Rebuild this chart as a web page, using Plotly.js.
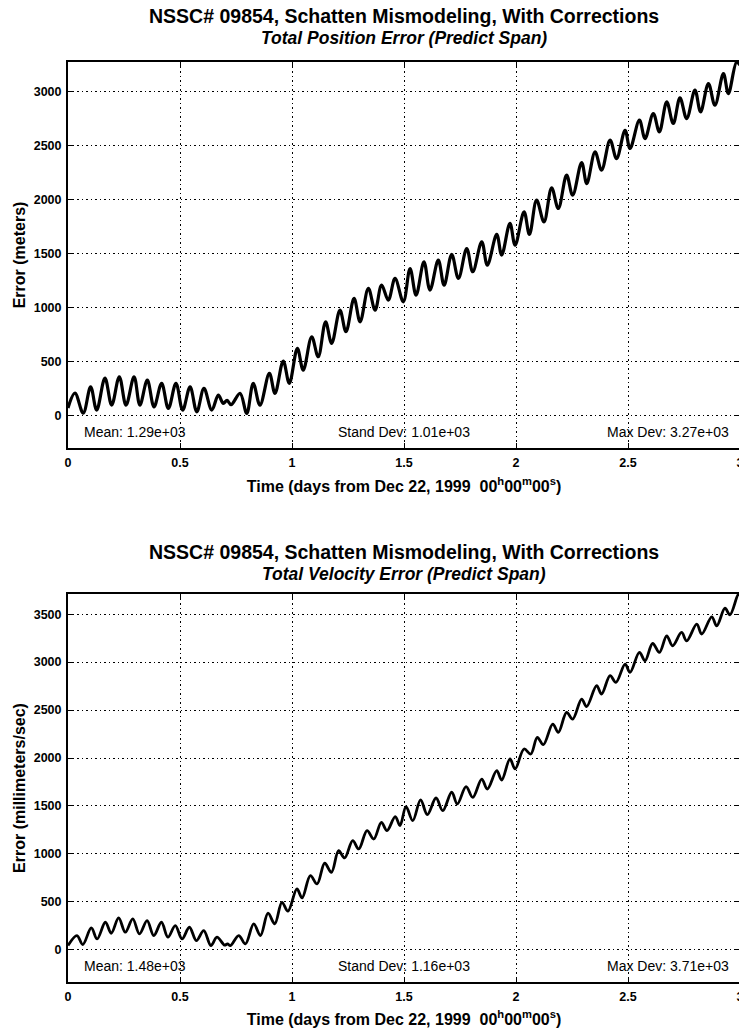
<!DOCTYPE html>
<html><head><meta charset="utf-8">
<script src="https://cdn.plot.ly/plotly-3.0.1.min.js"></script>
<style>html,body{margin:0;padding:0;overflow:hidden;background:#fff}#chart{width:742px;height:1028px}</style>
</head><body><div id="chart"></div>
<script>
// ---- data ----
const posTime = [
  0.000, 0.031, 0.068, 0.101, 0.128, 0.165, 0.195, 0.229, 0.259, 0.295,
  0.321, 0.354, 0.384, 0.418, 0.448, 0.482, 0.512, 0.545, 0.575, 0.607,
  0.642, 0.671, 0.693, 0.710, 0.728, 0.768, 0.798, 0.827, 0.857, 0.899,
  0.924, 0.961, 0.988, 1.024, 1.050, 1.088, 1.117, 1.150, 1.177, 1.214,
  1.241, 1.277, 1.304, 1.341, 1.371, 1.400, 1.430, 1.460, 1.497, 1.527,
  1.554, 1.589, 1.616, 1.653, 1.679, 1.713, 1.743, 1.780, 1.807, 1.847,
  1.872, 1.914, 1.936, 1.973, 1.996, 2.036, 2.060, 2.092, 2.125, 2.159,
  2.189, 2.226, 2.253, 2.293, 2.316, 2.353, 2.382, 2.420, 2.449, 2.487,
  2.509, 2.551, 2.576, 2.613, 2.640, 2.673, 2.702, 2.732, 2.762, 2.799,
  2.824, 2.859, 2.888, 2.926, 2.948, 2.985, 3.000
];
const posError = [
  70, 208, 23, 266, 51, 347, 97, 359, 97, 358,
  97, 328, 81, 298, 66, 298, 51, 266, 35, 251,
  51, 189, 113, 140, 100, 205, 20, 298, 97, 390,
  205, 504, 298, 621, 420, 729, 544, 867, 667, 975,
  775, 1083, 867, 1176, 975, 1206, 1068, 1268, 1052, 1360,
  1114, 1422, 1160, 1438, 1206, 1490, 1268, 1545, 1330, 1607,
  1391, 1675, 1484, 1777, 1576, 1884, 1675, 1992, 1792, 2106,
  1915, 2223, 2038, 2340, 2146, 2439, 2270, 2547, 2377, 2639,
  2470, 2732, 2562, 2793, 2624, 2901, 2701, 2938, 2747, 3009,
  2809, 3071, 2870, 3163, 2978, 3271, 3240
];
const velTime = [
  0.000, 0.040, 0.066, 0.104, 0.130, 0.167, 0.193, 0.226, 0.256, 0.289,
  0.319, 0.353, 0.383, 0.417, 0.446, 0.479, 0.509, 0.542, 0.573, 0.606,
  0.638, 0.665, 0.699, 0.712, 0.725, 0.762, 0.792, 0.829, 0.859, 0.893,
  0.923, 0.955, 0.982, 1.022, 1.045, 1.082, 1.112, 1.146, 1.176, 1.208,
  1.235, 1.271, 1.298, 1.335, 1.365, 1.399, 1.424, 1.461, 1.482, 1.509,
  1.539, 1.574, 1.604, 1.643, 1.673, 1.713, 1.738, 1.777, 1.807, 1.847,
  1.872, 1.914, 1.936, 1.973, 1.996, 2.036, 2.066, 2.095, 2.122, 2.164,
  2.189, 2.226, 2.253, 2.293, 2.315, 2.360, 2.382, 2.420, 2.446, 2.487,
  2.509, 2.551, 2.576, 2.610, 2.640, 2.673, 2.699, 2.739, 2.762, 2.807,
  2.829, 2.874, 2.896, 2.933, 2.955, 2.993, 3.000
];
const velError = [
  45, 149, 55, 229, 114, 288, 173, 333, 184, 323,
  166, 305, 149, 288, 132, 253, 114, 236, 97, 201,
  45, 132, 50, 62, 45, 149, 62, 271, 149, 382,
  271, 496, 403, 635, 541, 774, 687, 903, 809, 1034,
  958, 1139, 1052, 1243, 1156, 1330, 1243, 1390, 1295, 1493,
  1347, 1563, 1410, 1583, 1451, 1643, 1521, 1702, 1590, 1781,
  1677, 1868, 1771, 1990, 1886, 2094, 2042, 2215, 2139, 2354,
  2267, 2476, 2406, 2615, 2535, 2754, 2667, 2858, 2788, 2979,
  2892, 3101, 3014, 3194, 3101, 3274, 3170, 3309, 3222, 3396,
  3292, 3472, 3378, 3562, 3493, 3708, 3700
];
const xTickVals = [0, 0.5, 1, 1.5, 2, 2.5, 3];
const xTickText = ['0', '0.5', '1', '1.5', '2', '2.5', '3'];
const posTickVals = [0, 500, 1000, 1500, 2000, 2500, 3000];
const velTickVals = [0, 500, 1000, 1500, 2000, 2500, 3000, 3500];
const mainTitle = 'NSSC# 09854, Schatten Mismodeling, With Corrections';
const posSubtitle = 'Total Position Error (Predict Span)';
const velSubtitle = 'Total Velocity Error (Predict Span)';
const posStats = ['Mean: 1.29e+03', 'Stand Dev: 1.01e+03', 'Max Dev: 3.27e+03'];
const velStats = ['Mean: 1.48e+03', 'Stand Dev: 1.16e+03', 'Max Dev: 3.71e+03'];
const xTitle = 'Time (days from Dec 22, 1999\u00a0\u00a000<sup>h</sup>00<sup>m</sup>00<sup>s</sup>)';

// ---- styling ----
const FONT = '"Liberation Sans", Arial, Helvetica, sans-serif';
const H = 1028;
function axisBase() {
  return {
    showline: true, linecolor: '#000', linewidth: 2, mirror: 'ticks',
    ticks: 'inside', ticklen: 5, tickwidth: 1, tickcolor: '#000',
    showgrid: true, gridcolor: '#000', gridwidth: 1, griddash: '1.5px,3px',
    zeroline: false, automargin: false, fixedrange: true,
    ticklabeloverflow: 'allow', ticklabelstandoff: 2,
    tickfont: {family: FONT, size: 12.5, color: '#000', weight: 'bold'}
  };
}
const axisTitleFont = {family: FONT, size: 16, weight: 'bold', color: '#000'};
const xa = Object.assign(axisBase(), {
  range: [0, 3], tickmode: 'array', tickvals: xTickVals, ticktext: xTickText,
  anchor: 'y', domain: [0, 1],
  title: {text: xTitle, standoff: 12, font: axisTitleFont}
});
const xa2 = Object.assign(axisBase(), {
  range: [0, 3], tickmode: 'array', tickvals: xTickVals, ticktext: xTickText,
  anchor: 'y2', domain: [0, 1],
  title: {text: xTitle, standoff: 12, font: axisTitleFont}
});
const ya = Object.assign(axisBase(), {
  range: [-300, 3270], tickmode: 'array', tickvals: posTickVals,
  anchor: 'x', domain: [(H - 448) / H, (H - 62) / H],
  title: {text: 'Error (meters)', standoff: 4, font: axisTitleFont}
});
const ya2 = Object.assign(axisBase(), {
  range: [-335, 3710], tickmode: 'array', tickvals: velTickVals,
  anchor: 'x2', domain: [(H - 982) / H, (H - 594) / H],
  title: {text: 'Error (millimeters/sec)', standoff: 4, font: axisTitleFont}
});

const traces = [
  {x: posTime, y: posError, xaxis: 'x', yaxis: 'y', type: 'scatter', mode: 'lines',
   line: {color: '#000', width: 3.2, shape: 'spline', smoothing: 1}, hoverinfo: 'skip'},
  {x: velTime, y: velError, xaxis: 'x2', yaxis: 'y2', type: 'scatter', mode: 'lines',
   line: {color: '#000', width: 2.8, shape: 'spline', smoothing: 1}, hoverinfo: 'skip'}
];

const titleFont1 = {family: FONT, size: 19.5, weight: 'bold', color: '#000'};
const titleFont2 = {family: FONT, size: 17.5, weight: 'bold', color: '#000'};
const statFont = {family: FONT, size: 14, color: '#000'};
function statAnns(stats, xr, yr) {
  return [
    {text: stats[0], xref: xr, yref: yr, x: 0.0208, y: 0.041, xanchor: 'left', yanchor: 'middle', showarrow: false, font: statFont},
    {text: stats[1], xref: xr, yref: yr, x: 0.5007, y: 0.041, xanchor: 'center', yanchor: 'middle', showarrow: false, font: statFont},
    {text: stats[2], xref: xr, yref: yr, x: 0.9866, y: 0.041, xanchor: 'right', yanchor: 'middle', showarrow: false, font: statFont}
  ];
}
const annotations = [
  {text: mainTitle, xref: 'paper', yref: 'paper', x: 0.5, y: 1 - 16 / H, xanchor: 'center', yanchor: 'middle', showarrow: false, font: titleFont1},
  {text: '<i>' + posSubtitle + '</i>', xref: 'paper', yref: 'paper', x: 0.5, y: 1 - 38 / H, xanchor: 'center', yanchor: 'middle', showarrow: false, font: titleFont2},
  {text: mainTitle, xref: 'paper', yref: 'paper', x: 0.5, y: 1 - 552 / H, xanchor: 'center', yanchor: 'middle', showarrow: false, font: titleFont1},
  {text: '<i>' + velSubtitle + '</i>', xref: 'paper', yref: 'paper', x: 0.5, y: 1 - 574 / H, xanchor: 'center', yanchor: 'middle', showarrow: false, font: titleFont2}
].concat(statAnns(posStats, 'x domain', 'y domain'), statAnns(velStats, 'x2 domain', 'y2 domain'));

const layout = {
  width: 742, height: H,
  margin: {l: 68, r: 2, t: 0, b: 0, pad: 0},
  paper_bgcolor: '#fff', plot_bgcolor: '#fff',
  showlegend: false,
  font: {family: FONT, color: '#000'},
  xaxis: xa, yaxis: ya, xaxis2: xa2, yaxis2: ya2,
  annotations: annotations
};
Plotly.newPlot('chart', traces, layout, {displayModeBar: false, staticPlot: true});
</script></body></html>
